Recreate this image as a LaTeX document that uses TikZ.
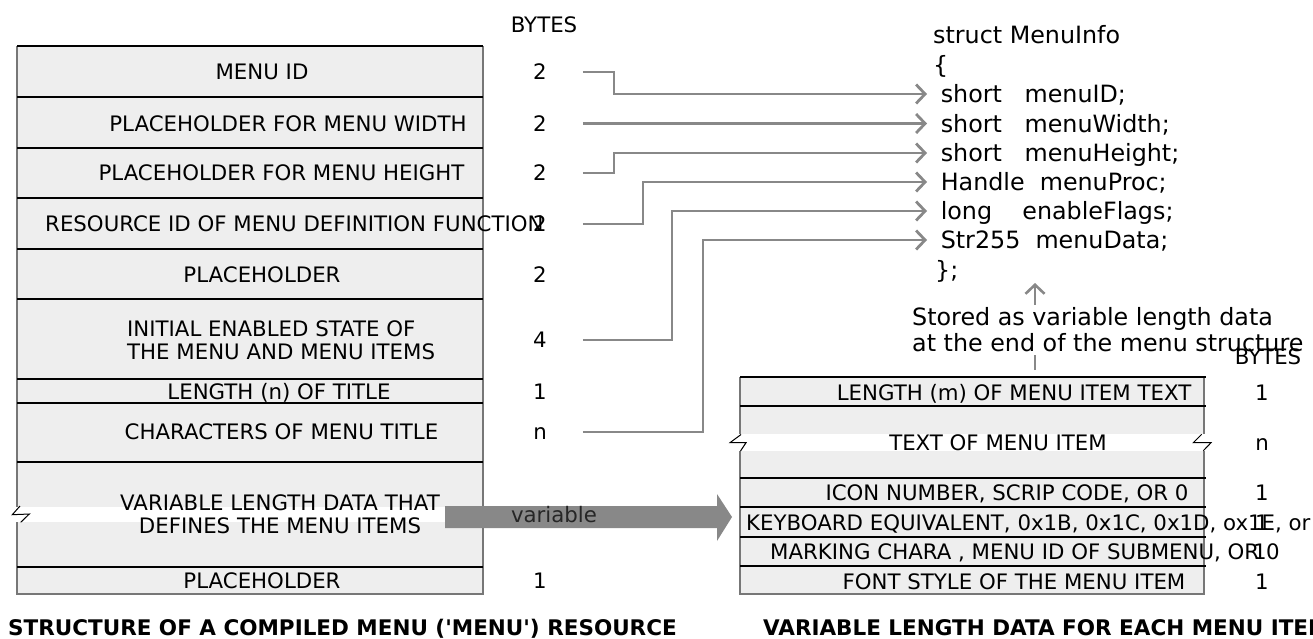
\documentclass[tikz,border=0pt]{standalone}
\usepackage{fontspec}
\setmainfont{DejaVu Sans}[Ligatures=TeXOff]
\usetikzlibrary{arrows.meta}
\definecolor{cellfill}{HTML}{EEEEEE}
\definecolor{linkgray}{HTML}{888888}
\definecolor{edgegray}{HTML}{777777}
\begin{document}
\begin{tikzpicture}[x=1pt,y=-1pt,
  cell/.style={inner sep=0pt, font=\fontsize{21.3}{23.5}\selectfont, text height=15.5pt, text depth=0pt},
  cellml/.style={inner sep=0pt, font=\fontsize{21.3}{23.5}\selectfont},
  code/.style={inner sep=0pt, font=\fontsize{23.8}{26}\selectfont, text height=17.4pt, text depth=0pt},
  title/.style={inner sep=0pt, font=\fontsize{21.5}{24}\selectfont\bfseries, text height=15.6pt, text depth=0pt},
  rowline/.style={line width=2.7pt, black},
  border/.style={line width=1.2pt, edgegray},
  brk/.style={line width=1pt, black},
  link/.style={line width=2.8pt, linkgray, -{Straight Barb[length=9pt,width=19pt]}}
]
\useasboundingbox (0,0) rectangle (1313,638);

% ---------- left table: compiled MENU resource ----------
\fill[cellfill] (17,46) rectangle (483,594);
\draw[border] (17,46) -- (17,594) -- (483,594) -- (483,46);
\foreach \yy in {46,97,148,198,249,299,379,403,462,567}
  \draw[rowline] (17,\yy) -- (483,\yy);
% break in the variable-length row
\fill[white] (11,507) rectangle (445,522);
\draw[brk] (20,506) -- (12.3,514.7) -- (29.3,514) -- (20.7,522.3);

\node[cell] (hdrL) at (544,25) {BYTES};
\node[cell] (r1) at (262,72) {MENU ID};
\node[cell] (r2) at (288,123.5) {PLACEHOLDER FOR MENU WIDTH};
\node[cell] (r3) at (281.5,173) {PLACEHOLDER FOR MENU HEIGHT};
\node[cell, anchor=west] (r4) at (45,224) {RESOURCE ID OF MENU DEFINITION FUNCTION};
\node[cell] (r5) at (262,275) {PLACEHOLDER};
\node[cellml, align=left, anchor=west] (r6) at (127,340) {INITIAL ENABLED STATE OF\\THE MENU AND MENU ITEMS};
\node[cell] (r7) at (279,392) {LENGTH (n) OF TITLE};
\node[cell] (r8) at (281.5,432) {CHARACTERS OF MENU TITLE};
\node[cellml, align=center] (r9) at (280,514) {VARIABLE LENGTH DATA THAT\\DEFINES THE MENU ITEMS};
\node[cell] (r10) at (262,581) {PLACEHOLDER};

\node[cell] (b1) at (540,72) {2};
\node[cell] (b2) at (540,123.5) {2};
\node[cell] (b3) at (540,173) {2};
\node[cell] (b4) at (540,224) {2};
\node[cell] (b5) at (540,275) {2};
\node[cell] (b6) at (540,340) {4};
\node[cell] (b7) at (540,392) {1};
\node[cell] (b8) at (540,432) {n};
\node[cell] (b10) at (540,581) {1};

% ---------- struct declaration ----------
\node[code, anchor=west] (sh) at (933,35) {struct MenuInfo};
\node[code, anchor=west] (ob) at (933,65) {\{};
\node[code, anchor=west] (s1) at (933,94) {\ short\ \ \ menuID;};
\node[code, anchor=west] (s2) at (933,123.5) {\ short\ \ \ menuWidth;};
\node[code, anchor=west] (s3) at (933,153) {\ short\ \ \ menuHeight;};
\node[code, anchor=west] (s4) at (933,182) {\ Handle\ \ menuProc;};
\node[code, anchor=west] (s5) at (933,211) {\ long\ \ \ \ enableFlags;};
\node[code, anchor=west] (s6) at (933,240) {\ Str255\ \ menuData;};
\node[code, anchor=west] (cb) at (935,270) {\};};

% field connectors
\draw[link] ([xshift=36pt]b1.east) -- ++(31,0) |- ([xshift=-6pt]s1.west);
\draw[link] ([xshift=36pt]b2.east) -- ([xshift=-6pt]s2.west);
\draw[link] ([xshift=36pt]b3.east) -- ++(31,0) |- ([xshift=-6pt]s3.west);
\draw[link] ([xshift=36pt]b4.east) -- ++(60,0) |- ([xshift=-6pt]s4.west);
\draw[link] ([xshift=36pt]b6.east) -- ++(89,0) |- ([xshift=-6pt]s5.west);
\draw[link] ([xshift=36pt]b8.east) -- ++(120,0) |- ([xshift=-6pt]s6.west);

% ---------- right table: data for each menu item ----------
\fill[cellfill] (740,377) rectangle (1204,594);
\draw[border] (740,377) -- (740,594) -- (1204,594) -- (1204,377);
\foreach \yy in {377,406,478,507,537,566}
  \draw[rowline] (740,\yy) -- (1206,\yy);
\fill[white] (730,434) rectangle (1210,451);
\draw[brk] (741,434.5) -- (730,442.7) -- (746,442.7) -- (740.5,451);
\draw[brk] (1201.7,434.3) -- (1193.3,442.7) -- (1211,442.7) -- (1203.3,450.7);

% note under the struct
\coordinate (upfoot) at (1035,370);
\coordinate (uptip) at (1035,283);
\draw[link, line width=2.6pt] (upfoot) -- (uptip);
\node[font=\fontsize{23.8}{26}\selectfont, align=left, anchor=west, fill=white,
      inner xsep=0pt, inner ysep=3pt] (note) at (912,330)
  {Stored as variable length data\\at the end of the menu structure};

\node[cell] (hdrR) at (1268,357) {BYTES};
\node[cell] (m1) at (1014,393) {LENGTH (m) OF MENU ITEM TEXT};
\node[cell] (m2) at (998,443) {TEXT OF MENU ITEM};
\node[cell] (m3) at (1007,493) {ICON NUMBER, SCRIP CODE, OR 0};
\node[cell, anchor=west] (m4) at (746,523) {KEYBOARD EQUIVALENT, 0x1B, 0x1C, 0x1D, ox1E, or};
\node[cell, anchor=west] (m5) at (770,552) {MARKING CHARA , MENU ID OF SUBMENU, OR 0};
\node[cell] (m6) at (1014,582) {FONT STYLE OF THE MENU ITEM};

\node[cell] (c1) at (1262,393) {1};
\node[cell] (c2) at (1262,443) {n};
\node[cell] (c3) at (1262,493) {1};
\node[cell] (c4) at (1262,523) {1};
\node[cell] (c5) at (1260,552) {1};
\node[cell] (c6) at (1262,582) {1};

% broad arrow from the variable-length row to the item layout
\coordinate (va) at (445,517);
\coordinate (vb) at (732,517);
\fill[linkgray] (va) ++(0,-11) -- (717,506) -- (717,494) -- (vb) -- (717,541) -- (717,528) -- (445,528) -- cycle;
\node[cell, text=black!85] (vlab) at (554,515) {variable};

% captions
\node[title, anchor=west] (capL) at (8,628) {STRUCTURE OF A COMPILED MENU ('MENU') RESOURCE};
\node[title, anchor=west] (capR) at (763,628) {VARIABLE LENGTH DATA FOR EACH MENU ITEM};
\end{tikzpicture}
\end{document}
